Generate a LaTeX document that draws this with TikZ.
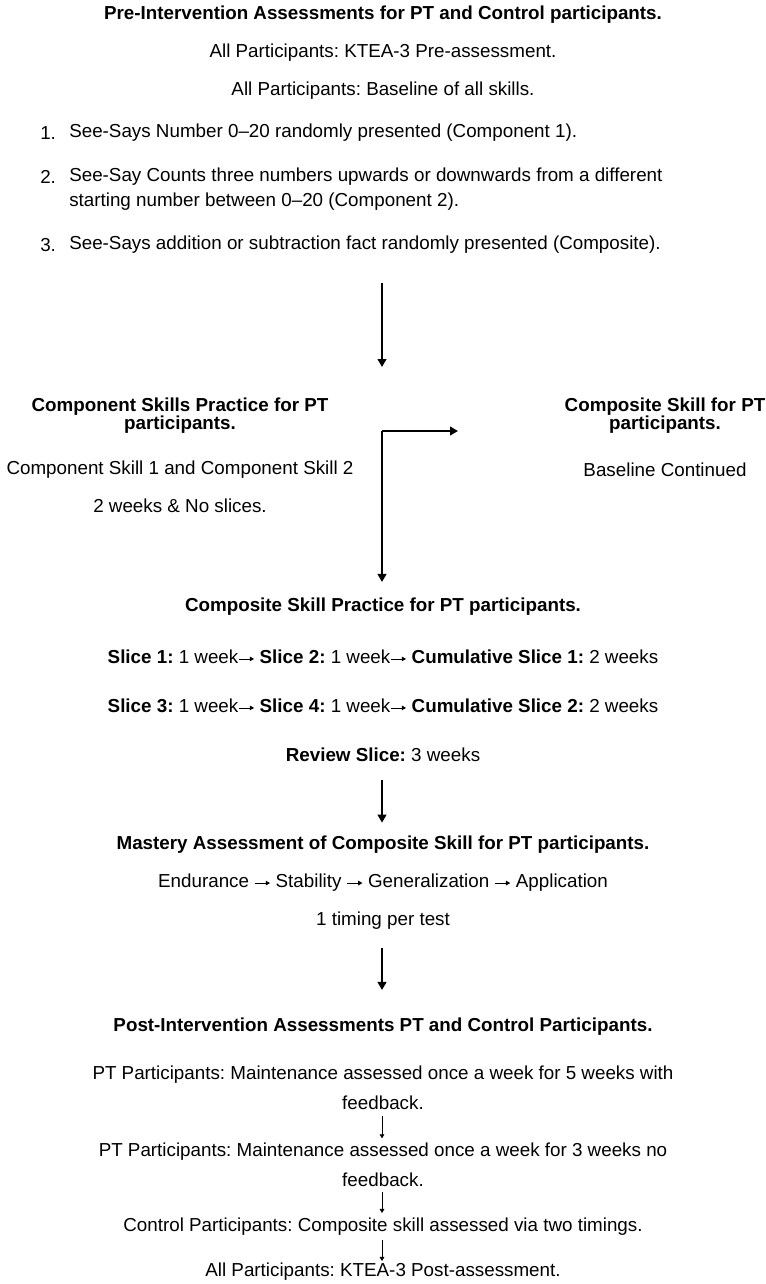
\documentclass[tikz,border=0pt]{standalone}
\usepackage{fontspec}
\setmainfont{Liberation Sans}
\usetikzlibrary{arrows.meta,positioning}
\frenchspacing
% small inline arrow between steps
\newcommand{\sarr}{\tikz[baseline={(0pt,-3.6pt)}]\draw[line width=0.6pt,-{Triangle[length=3.2pt,width=3.4pt]}] (0pt,0pt) -- (11.5pt,0pt);}

\begin{document}
\begin{tikzpicture}[x=0.75pt,y=-0.75pt,>=Stealth, every node/.style={font=\fontsize{14.1}{16.9}\selectfont,inner sep=0pt}]
    \tikzset{hd/.style={font=\fontsize{14.1}{13.6}\selectfont\bfseries}}
    \tikzset{flow/.style={->,line width=1.5pt,>={Triangle[length=6pt,width=6.5pt]}}}
    \tikzset{thinflow/.style={->,line width=0.6pt,>={Triangle[length=3pt,width=3.5pt]}}}
    \useasboundingbox (0,0) rectangle (766,1284);

    % Pre-intervention
    \node[hd] (preHd) at (383,15) {Pre-Intervention Assessments for PT and Control participants.};
    \node (preKtea) at (383,53) {All Participants: KTEA-3 Pre-assessment.};
    \node (preBase) at (383,91) {All Participants: Baseline of all skills.};
    \node[anchor=west] (num1) at (40,133) {1.};
    \node[anchor=west] (item1) at (69,133) {See-Says Number 0–20 randomly presented (Component 1).};
    \node[anchor=west] (num2) at (40,177) {2.};
    \node[anchor=west,align=left,font=\fontsize{14.1}{18.75}\selectfont] (item2) at (69,189.5) {See-Say Counts three numbers upwards or downwards from a different\\starting number between 0–20 (Component 2).};
    \node[anchor=west] (num3) at (40,245) {3.};
    \node[anchor=west] (item3) at (69,245) {See-Says addition or subtraction fact randomly presented (Composite).};
    \coordinate (preOut) at (382,283);
    \coordinate (preIn) at (382,367);
    \draw[flow] (preOut) -- (preIn);

    % Component skills / baseline continued
    \node[hd,align=center] (compHd) at (180,416) {Component Skills Practice for PT\\participants.};
    \node (compTxt) at (180,470) {Component Skill 1 and Component Skill 2};
    \node (compWk) at (180,506) {2 weeks \& No slices.};
    \node[hd,align=center] (baseHd) at (665,416) {Composite Skill for PT\\participants.};
    \node (baseTxt) at (665,470) {Baseline Continued};
    \coordinate (fork) at (382,431);
    \draw[flow] (fork) -- ++(76,0);

    % Composite practice
    \node[hd] (cspHd) at (383,607) {Composite Skill Practice for PT participants.};
    \node (sliceA) at (383,657) {\textbf{Slice 1:} 1 week\sarr\ \textbf{Slice 2:} 1 week\sarr\ \textbf{Cumulative Slice 1:} 2 weeks};
    \node (sliceB) at (383,706) {\textbf{Slice 3:} 1 week\sarr\ \textbf{Slice 4:} 1 week\sarr\ \textbf{Cumulative Slice 2:} 2 weeks};
    \node (review) at (383,755) {\textbf{Review Slice:} 3 weeks};
    \draw[flow,shorten >=12pt] (fork) -- (fork |- cspHd.north);

    % Mastery
    \node[hd] (mastHd) at (383,845) {Mastery Assessment of Composite Skill for PT participants.};
    \node (mastSeq) at (383,883) {Endurance \sarr\ Stability \sarr\ Generalization \sarr\ Application};
    \node (mastTim) at (383,921) {1 timing per test};
    \draw[flow,shorten <=13.5pt,shorten >=10pt] (review.south -| fork) -- (mastHd.north -| fork);

    % Post-intervention
    \node[hd] (postHd) at (383,1027) {Post-Intervention Assessments PT and Control Participants.};
    \draw[flow,shorten <=13.5pt,shorten >=21pt] (mastTim.south -| fork) -- (postHd.north -| fork);
    \node[align=center,font=\fontsize{14.1}{22.5}\selectfont] (postPT1) at (383,1088) {PT Participants: Maintenance assessed once a week for 5 weeks with\\feedback.};
    \node[align=center,font=\fontsize{14.1}{22.5}\selectfont] (postPT2) at (383,1164.5) {PT Participants: Maintenance assessed once a week for 3 weeks no\\feedback.};
    \node (postCtl) at (383,1227) {Control Participants: Composite skill assessed via two timings.};
    \node (postAll) at (383,1272) {All Participants: KTEA-3 Post-assessment.};
    \draw[thinflow,shorten <=4.5pt,shorten >=3pt] (postPT1.south -| fork) -- (postPT2.north -| fork);
    \draw[thinflow,shorten <=3.75pt,shorten >=3.75pt] (postPT2.south -| fork) -- (postCtl.north -| fork);
    \draw[thinflow,shorten <=3pt,shorten >=1.5pt] (postCtl.south -| fork) -- (postAll.north -| fork);
\end{tikzpicture}
\end{document}
